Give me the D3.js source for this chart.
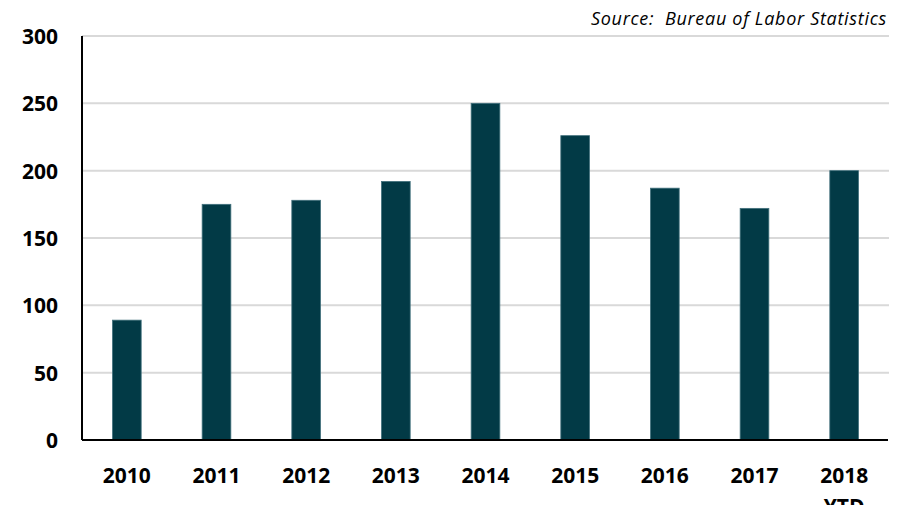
<!DOCTYPE html>
<html lang="en">
<head>
  <meta charset="UTF-8">
  <title>Job Gains by Year</title>
  <script src="https://d3js.org/d3.v7.min.js"></script>
  <style>
    body { margin: 0; background: #fff; }
    .tick-label { font-family: "Open Sans", sans-serif; font-weight: bold; font-size: 21px; fill: #000; }
    .source { font-family: "Open Sans", sans-serif; font-style: italic; font-size: 18px; letter-spacing: 0.7px; white-space: pre; fill: #000; }
    .grid { stroke: #d9d9d9; stroke-width: 2px; }
    .bar { fill: #023a46; stroke: #41707c; stroke-width: 0.8px; }
  </style>
</head>
<body>
  <svg width="906" height="505"></svg>
  <script>
    // Data
    const years = ["2010", "2011", "2012", "2013", "2014", "2015", "2016", "2017", "2018"];
    const yearLines = [["2010"], ["2011"], ["2012"], ["2013"], ["2014"], ["2015"], ["2016"], ["2017"], ["2018", "YTD"]];
    const values = [89, 175, 178, 192, 250, 226, 187, 172, 200];
    const yTicks = [0, 50, 100, 150, 200, 250, 300];

    const svg = d3.select("svg");
    const plotLeft = 82, plotRight = 889, plotTop = 36, plotBottom = 440;

    const x = d3.scaleBand()
      .domain(years)
      .range([plotLeft, plotRight])
      .paddingInner(0.68)
      .paddingOuter(0.34);

    const y = d3.scaleLinear()
      .domain([0, 300])
      .range([plotBottom, plotTop]);

    // Gridlines
    svg.append("g")
      .selectAll("line")
      .data(yTicks.filter(d => d > 0))
      .join("line")
      .attr("class", "grid")
      .attr("x1", plotLeft)
      .attr("x2", plotRight)
      .attr("y1", d => y(d))
      .attr("y2", d => y(d));

    // Bars
    svg.append("g")
      .selectAll("rect")
      .data(values)
      .join("rect")
      .attr("class", "bar")
      .attr("x", (d, i) => x(years[i]))
      .attr("width", x.bandwidth())
      .attr("y", d => y(d))
      .attr("height", d => y(0) - y(d));

    // Axis lines
    svg.append("line")
      .attr("x1", plotLeft).attr("x2", plotLeft)
      .attr("y1", plotTop).attr("y2", plotBottom)
      .attr("stroke", "#000").attr("stroke-width", 2);
    svg.append("line")
      .attr("x1", plotLeft).attr("x2", plotRight - 1)
      .attr("y1", plotBottom).attr("y2", plotBottom)
      .attr("stroke", "#000").attr("stroke-width", 2);

    // Y tick labels
    svg.append("g")
      .selectAll("text")
      .data(yTicks)
      .join("text")
      .attr("class", "tick-label")
      .attr("x", 58)
      .attr("y", d => y(d) + 8)
      .attr("text-anchor", "end")
      .text(d => d);

    // X tick labels (the second line of "2018 YTD" runs off the bottom, as in the original)
    const xl = svg.append("g")
      .selectAll("text")
      .data(years)
      .join("text")
      .attr("class", "tick-label")
      .attr("text-anchor", "middle")
      .attr("x", d => x(d) + x.bandwidth() / 2)
      .attr("y", 483);
    xl.selectAll("tspan")
      .data((d, i) => yearLines[i])
      .join("tspan")
      .attr("x", function () { return d3.select(this.parentNode).attr("x"); })
      .attr("dy", (d, i) => i === 0 ? 0 : 31)
      .text(d => d);

    // Source note
    svg.append("text")
      .attr("class", "source")
      .attr("x", 887)
      .attr("y", 25)
      .attr("text-anchor", "end")
      .text("Source:  Bureau of Labor Statistics");
  </script>
</body>
</html>
